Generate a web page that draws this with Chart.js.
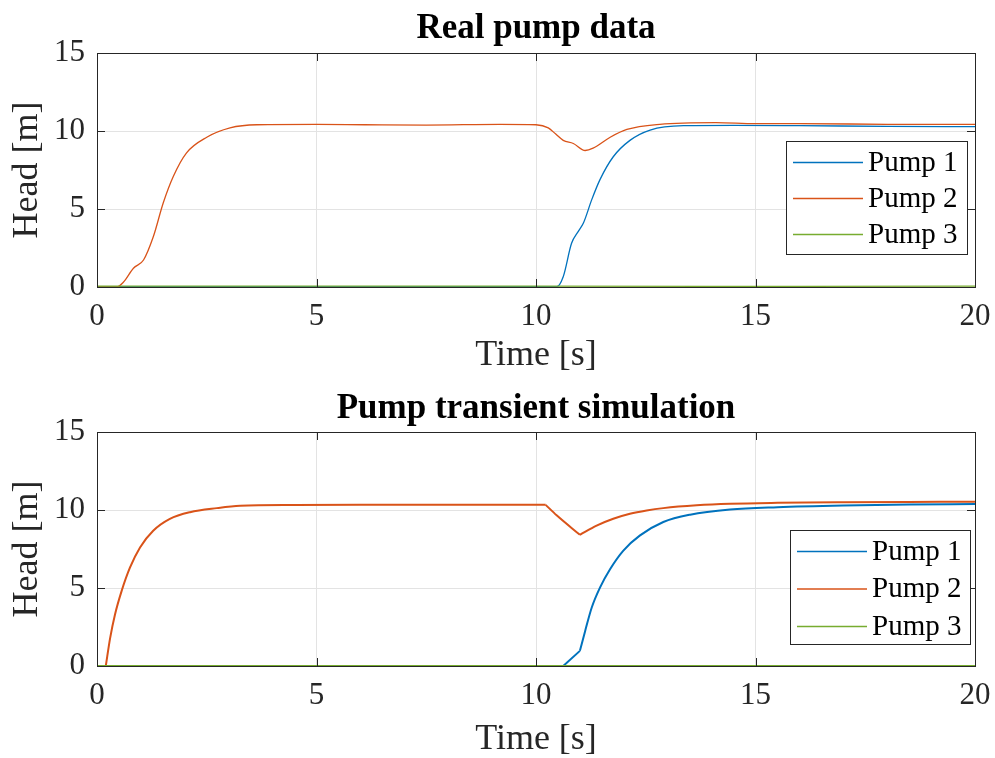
<!DOCTYPE html>
<html>
<head>
<meta charset="utf-8">
<script src="https://cdn.jsdelivr.net/npm/chart.js@4"></script>
<style>
  html, body { margin: 0; padding: 0; background: #fff; }
  .plot { position: relative; width: 995px; height: 379px; }
</style>
</head>
<body>
<div class="plot"><canvas id="realChart"></canvas></div>
<div class="plot"><canvas id="simChart"></canvas></div>
<script>
// tick labels
const xTicks = [0, 5, 10, 15, 20];
const yTicks = [0, 5, 10, 15];
const seriesNames = ["Pump 1", "Pump 2", "Pump 3"];

// Real pump data
const realPump1Time = [0, 10.47, 10.62, 10.81, 10.96, 11.08, 11.27, 11.46, 11.76, 12.14, 12.6, 13.36, 14.5, 16, 18, 20];
const realPump1Head = [0.02, 0.02, 0.66, 2.8, 3.55, 4.1, 5.6, 6.9, 8.35, 9.4, 10.06, 10.34, 10.36, 10.34, 10.3, 10.28];
const realPump2Time = [0, 0.45, 0.6, 0.83, 1.06, 1.28, 1.51, 1.74, 2.04, 2.5, 3.03, 3.64, 5, 6.1, 7.5, 9.18, 10.0, 10.28, 10.45, 10.62, 10.85, 11.12, 11.3, 11.69, 12.07, 12.82, 14.1, 15.0, 16.0, 18, 20];
const realPump2Head = [0, 0, 0.3, 1.2, 1.73, 3.2, 5.4, 7.1, 8.6, 9.6, 10.2, 10.4, 10.42, 10.4, 10.38, 10.43, 10.4, 10.2, 9.8, 9.4, 9.2, 8.75, 8.9, 9.6, 10.1, 10.43, 10.54, 10.47, 10.47, 10.43, 10.42];
const realPump3Time = [0, 5, 10, 15, 20];
const realPump3Head = [0.05, 0.06, 0.05, 0.04, 0.05];

// Pump transient simulation (sharp corners at the switching times)
const simPump1Time = [0, 10.62, 11.0, 11.12, 11.27, 11.46, 11.69, 11.99, 12.37, 12.9, 13.51, 14.42, 15.5, 17, 18.5, 20];
const simPump1Head = [0, 0, 0.97, 2.25, 3.75, 5.04, 6.22, 7.4, 8.37, 9.23, 9.7, 10.03, 10.18, 10.29, 10.35, 10.38];
const simPump1Corners = [10.62, 11.0];
const simPump2Time = [0, 0.2, 0.3, 0.41, 0.56, 0.75, 0.98, 1.28, 1.66, 2.12, 2.73, 3.26, 4.5, 6, 8, 10.22, 10.47, 11.0, 11.38, 11.76, 12.14, 12.52, 12.9, 13.66, 14.42, 15.5, 17, 18.5, 20];
const simPump2Head = [0, 0, 1.8, 3.3, 4.8, 6.3, 7.6, 8.67, 9.43, 9.86, 10.12, 10.27, 10.32, 10.33, 10.33, 10.33, 9.66, 8.41, 9.0, 9.44, 9.76, 9.97, 10.12, 10.3, 10.4, 10.46, 10.5, 10.52, 10.53];
const simPump2Corners = [0.2, 10.22, 11.0];
const simPump3Time = [0, 20];
const simPump3Head = [0, 0];

const colors = ["#0072BD", "#D95319", "#77AC30"];
const serif = "'Liberation Serif', 'Times New Roman', serif";
const axisColor = "#262626";

// split one series into pieces at its corner times
function pieces(t, v, corners) {
  const out = [];
  let cur = [];
  t.forEach((x, i) => {
    cur.push({ x: x, y: v[i] });
    if ((corners || []).includes(x) && cur.length > 1) {
      out.push(cur);
      cur = [{ x: x, y: v[i] }];
    }
  });
  if (cur.length > 1) out.push(cur);
  return out;
}

// box, inward ticks, title and legend, MATLAB style
const boxPlugin = {
  id: "box",
  afterDatasetsDraw(chart) {
    const { ctx, chartArea: a, scales } = chart;
    ctx.save();
    ctx.strokeStyle = axisColor;
    ctx.lineWidth = 1;
    ctx.strokeRect(a.left + 0.5, a.top + 0.5, a.right - a.left, a.bottom - a.top);
    ctx.beginPath();
    xTicks.forEach(v => {
      const px = Math.round(scales.x.getPixelForValue(v)) + 0.5;
      ctx.moveTo(px, a.bottom); ctx.lineTo(px, a.bottom - 8);
      ctx.moveTo(px, a.top); ctx.lineTo(px, a.top + 8);
    });
    yTicks.forEach(v => {
      const py = Math.round(scales.y.getPixelForValue(v)) + 0.5;
      ctx.moveTo(a.left, py); ctx.lineTo(a.left + 8, py);
      ctx.moveTo(a.right, py); ctx.lineTo(a.right - 8, py);
    });
    ctx.stroke();
    ctx.restore();
  },
  afterDraw(chart) {
    const opt = chart.options.plugins.box;
    const lg = opt.legend;
    const { ctx, chartArea: a } = chart;
    ctx.save();
    // title
    ctx.fillStyle = "#000";
    ctx.font = "bold 35px " + serif;
    ctx.textAlign = "center";
    ctx.textBaseline = "middle";
    ctx.fillText(opt.title, (a.left + a.right) / 2, opt.titleY);
    // legend
    ctx.textAlign = "left";
    ctx.fillStyle = "#fff";
    ctx.fillRect(lg.x, lg.y, lg.w, lg.h);
    ctx.strokeStyle = axisColor;
    ctx.lineWidth = 1;
    ctx.strokeRect(lg.x + 0.5, lg.y + 0.5, lg.w, lg.h);
    ctx.font = "29px " + serif;
    seriesNames.forEach((name, i) => {
      const y = lg.y + lg.rowTop + i * lg.rowGap;
      ctx.strokeStyle = colors[i];
      ctx.lineWidth = 1.3;
      ctx.beginPath();
      ctx.moveTo(lg.x + 7, y + 0.5);
      ctx.lineTo(lg.x + 77, y + 0.5);
      ctx.stroke();
      ctx.fillStyle = "#000";
      ctx.fillText(name, lg.x + 82, y + 1);
    });
    ctx.restore();
  }
};

function makeChart(id, title, series, lineWidth, boxOpts, xTitlePad) {
  const datasets = [];
  series.forEach((s, i) => {
    pieces(s[0], s[1], s[2]).forEach(p => {
      datasets.push({
        label: seriesNames[i],
        data: p,
        borderColor: colors[i],
        borderWidth: lineWidth,
        pointRadius: 0,
        fill: false,
        cubicInterpolationMode: "monotone",
        clip: false,
        order: 3 - i
      });
    });
  });
  boxOpts.title = title;

  new Chart(document.getElementById(id), {
    type: "line",
    data: { datasets: datasets },
    options: {
      responsive: true,
      maintainAspectRatio: false,
      animation: false,
      layout: { padding: { left: 0, right: 20, top: 53, bottom: 0 } },
      plugins: {
        legend: { display: false },
        tooltip: { enabled: false },
        title: { display: false },
        box: boxOpts
      },
      scales: {
        x: {
          type: "linear",
          min: 0,
          max: 20,
          afterBuildTicks: s => { s.ticks = xTicks.map(v => ({ value: v })); },
          afterFit: s => { s.height = 92; s.paddingLeft = 0; s.paddingRight = 0; },
          grid: { color: "#e3e3e3", drawTicks: false },
          border: { display: false },
          ticks: { color: axisColor, padding: 11, maxRotation: 0, font: { family: serif, size: 31 } },
          title: {
            display: true,
            text: "Time [s]",
            color: axisColor,
            font: { family: serif, size: 36, lineHeight: 1 },
            padding: { top: 0, bottom: xTitlePad }
          }
        },
        y: {
          min: 0,
          max: 15,
          afterBuildTicks: s => { s.ticks = yTicks.map(v => ({ value: v })); },
          afterFit: s => { s.width = 97; s.paddingTop = 0; s.paddingBottom = 0; },
          grid: { color: "#e3e3e3", drawTicks: false },
          border: { display: false },
          ticks: { color: axisColor, padding: 12, font: { family: serif, size: 31 } },
          title: {
            display: true,
            text: "Head [m]",
            color: axisColor,
            font: { family: serif, size: 36, lineHeight: 1.2 },
            padding: { top: 6, bottom: 0 }
          }
        }
      }
    },
    plugins: [boxPlugin]
  });
}

makeChart("realChart", "Real pump data", [
  [realPump1Time, realPump1Head],
  [realPump2Time, realPump2Head],
  [realPump3Time, realPump3Head]
], 1.3, { titleY: 29, legend: { x: 786, y: 141, w: 181, h: 113, rowTop: 21, rowGap: 36 } }, 5);

makeChart("simChart", "Pump transient simulation", [
  [simPump1Time, simPump1Head, simPump1Corners],
  [simPump2Time, simPump2Head, simPump2Corners],
  [simPump3Time, simPump3Head]
], 2, { titleY: 30, legend: { x: 790, y: 151, w: 180, h: 114, rowTop: 21, rowGap: 37.5 } }, 0);
</script>
</body>
</html>
